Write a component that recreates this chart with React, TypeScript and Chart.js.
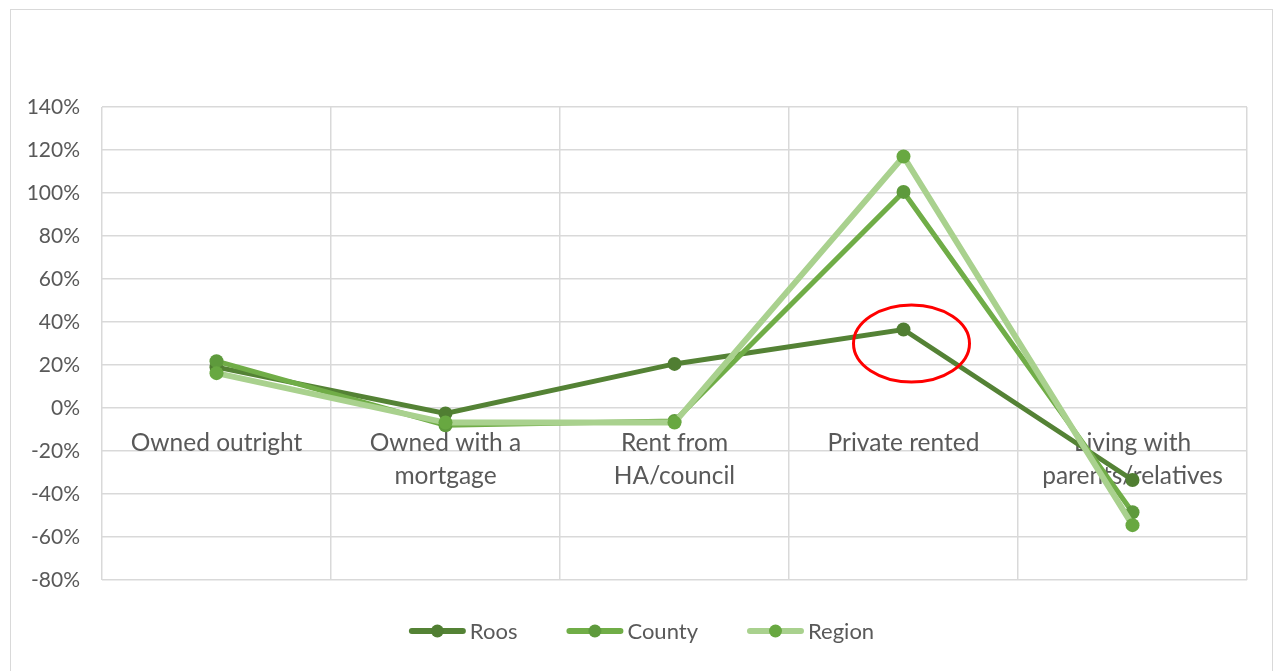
import React, { useEffect, useRef } from "react";
import { Chart, registerables } from "chart.js";

Chart.register(...registerables);

const categories: (string | string[])[] = [
  "Owned outright",
  ["Owned with a", "mortgage"],
  ["Rent from", "HA/council"],
  "Private rented",
  ["Living with", "parents/relatives"],
];
const roos = [19, -2.5, 20.5, 36.5, -33.5];
const county = [21.8, -8, -6, 100.5, -48.5];
const region = [16.2, -6.8, -6.8, 117, -54.5];
const yMin = -80;
const yMax = 140;
const yStep = 20;
const highlightIndex = 3;

const FONT = "Lato, 'Open Sans', sans-serif";
const TEXT = "#595959";

const ellipsePlugin = {
  id: "highlightEllipse",
  afterDatasetsDraw(chart: any) {
    const { ctx, scales } = chart;
    const ds = chart.data.datasets[0];
    const cx = scales.x.getPixelForValue(highlightIndex) + 8;
    const cy = scales.y.getPixelForValue(ds.data[highlightIndex]) + 14;
    ctx.save();
    ctx.beginPath();
    ctx.ellipse(cx, cy, 58, 38.5, 0, 0, Math.PI * 2);
    ctx.strokeStyle = "#ff0000";
    ctx.lineWidth = 3;
    ctx.stroke();
    ctx.restore();
  },
};

const legendPlugin = {
  id: "customLegend",
  afterDraw(chart: any) {
    const { ctx, chartArea, width } = chart;
    const dsets = chart.data.datasets;
    ctx.save();
    ctx.font = `22px ${FONT}`;
    const lineLen = 57;
    const textGap = 4;
    const itemGap = 49;
    const widths = dsets.map((d: any) => lineLen + textGap + ctx.measureText(d.label).width);
    const total = widths.reduce((a: number, b: number) => a + b, 0) + itemGap * (dsets.length - 1);
    let x = width / 2 - total / 2;
    const y = chartArea.bottom + 51;
    dsets.forEach((d: any, i: number) => {
      ctx.beginPath();
      ctx.moveTo(x + 3, y);
      ctx.lineTo(x + lineLen - 3, y);
      ctx.strokeStyle = d.borderColor;
      ctx.lineWidth = 6;
      ctx.lineCap = "round";
      ctx.stroke();
      ctx.beginPath();
      ctx.arc(x + lineLen / 2, y, 6.5, 0, Math.PI * 2);
      ctx.fillStyle = d.pointBackgroundColor;
      ctx.fill();
      ctx.fillStyle = TEXT;
      ctx.textBaseline = "middle";
      ctx.textAlign = "left";
      ctx.fillText(d.label, x + lineLen + textGap, y + 1);
      x += widths[i] + itemGap;
    });
    ctx.restore();
  },
};

export default function App() {
  const canvasRef = useRef<HTMLCanvasElement | null>(null);

  useEffect(() => {
    if (!canvasRef.current) return;
    const chart = new Chart(canvasRef.current, {
      type: "line",
      data: {
        labels: categories,
        datasets: [
          {
            label: "Roos",
            data: roos,
            borderColor: "#548235",
            backgroundColor: "#548235",
            pointBackgroundColor: "#507e32",
            pointBorderColor: "#507e32",
            borderWidth: 5,
            pointRadius: 7,
            pointBorderWidth: 0,
            order: 2,
          },
          {
            label: "County",
            data: county,
            borderColor: "#70ad47",
            backgroundColor: "#70ad47",
            pointBackgroundColor: "#5e9a3c",
            pointBorderColor: "#5e9a3c",
            borderWidth: 5,
            pointRadius: 7,
            pointBorderWidth: 0,
            order: 1,
          },
          {
            label: "Region",
            data: region,
            borderColor: "#a9d18e",
            backgroundColor: "#a9d18e",
            pointBackgroundColor: "#68a841",
            pointBorderColor: "#68a841",
            borderWidth: 6,
            pointRadius: 7,
            pointBorderWidth: 0,
            order: 0,
          },
        ],
      },
      options: {
        animation: false,
        responsive: false,
        maintainAspectRatio: false,
        layout: { padding: { top: 97, left: 0, right: 25, bottom: 91 } },
        plugins: {
          legend: { display: false },
          tooltip: { enabled: false },
        },
        scales: {
          x: {
            type: "category",
            position: { y: 0 } as any,
            offset: true,
            grid: {
              offset: true,
              color: "#d9d9d9",
              lineWidth: 1.5,
              drawTicks: false,
            },
            border: { display: false },
            ticks: {
              color: TEXT,
              font: { family: FONT, size: 24.5, lineHeight: 1.33 },
              padding: 19,
              maxRotation: 0,
              minRotation: 0,
              autoSkip: false,
            },
          },
          y: {
            min: yMin,
            max: yMax,
            grid: { color: "#d9d9d9", lineWidth: 1.5, drawTicks: false },
            border: { display: false },
            afterFit: (scale: any) => {
              scale.width = 91;
            },
            ticks: {
              stepSize: yStep,
              color: TEXT,
              padding: 22,
              font: { family: FONT, size: 21 },
              callback: (v: any) => `${v}%`,
            },
          },
        },
      },
      plugins: [ellipsePlugin, legendPlugin],
    });
    return () => chart.destroy();
  }, []);

  return (
    <div
      style={{
        position: "absolute",
        left: 10,
        top: 9,
        width: 1261,
        height: 680,
        border: "1px solid #d9d9d9",
        background: "#fff",
      }}
    >
      <canvas ref={canvasRef} width={1261} height={661} style={{ display: "block" }} />
    </div>
  );
}
